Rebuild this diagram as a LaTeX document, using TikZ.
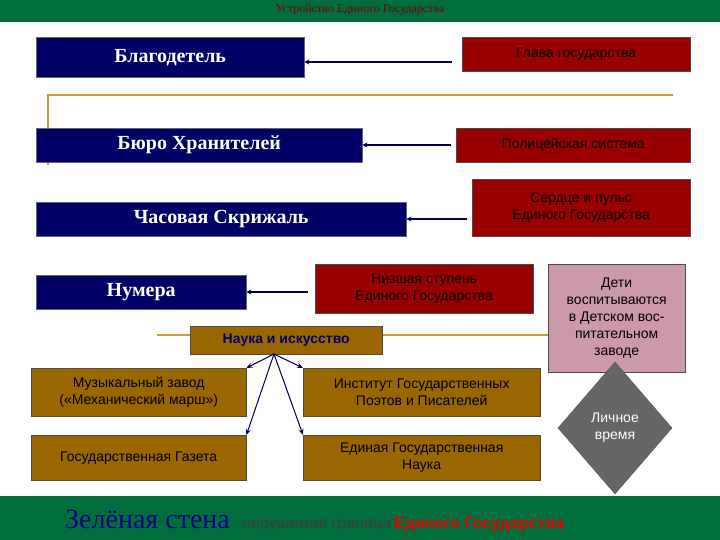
\documentclass[tikz,border=0pt]{standalone}
\usepackage{fontspec}
\setmainfont{Liberation Sans}
\newfontfamily\serifb{Liberation Serif}
\usetikzlibrary{shapes.geometric,arrows.meta}
\definecolor{gband}{RGB}{0,110,60}
\definecolor{bbox}{RGB}{0,0,102}
\definecolor{rbox}{RGB}{153,0,0}
\definecolor{pbox}{RGB}{204,153,170}
\definecolor{obox}{RGB}{153,102,0}
\definecolor{gold}{RGB}{190,160,60}
\definecolor{arr}{RGB}{0,0,80}
\begin{document}
\begin{tikzpicture}[x=1pt,y=-1pt,
  bluebox/.style={fill=bbox,draw=black!60,text=white,font=\serifb\bfseries\fontsize{20}{22}\selectfont,anchor=north west,inner sep=0pt},
  redbox/.style={fill=rbox,draw=black!70,text=black,font=\fontsize{14}{17}\selectfont,anchor=north west,inner sep=0pt,align=center},
  brownbox/.style={fill=obox,draw=black!70,text=black,font=\fontsize{14}{17}\selectfont,anchor=north west,inner sep=0pt,align=center},
  conn/.style={draw=arr,line width=1.5pt,-{Stealth[length=5pt,width=5pt]}},
  fan/.style={draw=arr,line width=1pt,-{Stealth[length=6pt,width=5pt]}}]
\useasboundingbox (0,0) rectangle (720,540);
\fill[white] (0,0) rectangle (720,540);
\fill[gband] (0,0) rectangle (720,22);
\fill[gband] (0,496) rectangle (720,540);
\node[text=rbox!80!black,font=\serifb\fontsize{12}{14}\selectfont] (title) at (360,10) {Устройство Единого Государства};
% gold lines
\draw[gold,line width=1.5pt] (48,165) -- (48,95) -- (673,95);
\draw[gold,line width=1.5pt] (157,335) -- (548,335);
% blue boxes
\node[bluebox,minimum width=268,minimum height=40] (b1) at (36,37) {Благодетель};
\node[bluebox,minimum width=326,minimum height=34] (b2) at (36,128) {Бюро Хранителей};
\node[bluebox,minimum width=370,minimum height=34] (b3) at (36,202) {Часовая Скрижаль};
\node[bluebox,minimum width=210,minimum height=34] (b4) at (36,275) {Нумера};
% red boxes
\node[redbox,minimum width=228,minimum height=34] (r1) at (462,37) {Глава государства};
\node[redbox,minimum width=234,minimum height=34] (r2) at (456,128) {Полицейская система};
\node[redbox,minimum width=218,minimum height=57] (r3) at (472,179) {Сердце и пульс\\Единого Государства};
\node[redbox,minimum width=218,minimum height=49] (r4) at (315,264) {Низшая ступень\\Единого Государства};
\node[fill=pbox,draw=black!70,text=black,font=\fontsize{14}{17}\selectfont,anchor=north west,inner sep=0pt,align=center,minimum width=137,minimum height=108] (kids) at (548,264) {Дети\\воспитываются\\в Детском вос-\\питательном\\заводе};
\node[diamond,fill=black!60,draw=black!70,text=white,font=\fontsize{14}{17}\selectfont,align=center,minimum width=114,minimum height=132,inner sep=0pt] (time) at (615,428) {Личное\\время};
% arrows red->blue
\coordinate (a1) at (452,62); \draw[conn] (a1) -- (b1.east |- a1);
\coordinate (a2) at (451,145); \draw[conn] (a2) -- (b2.east |- a2);
\coordinate (a3) at (467,219); \draw[conn] (a3) -- (b3.east |- a3);
\coordinate (a4) at (308,292); \draw[conn] (a4) -- (b4.east |- a4);
% brown boxes
\node[brownbox,font=\bfseries\fontsize{14}{17}\selectfont,text=bbox,minimum width=192,minimum height=28] (sci) at (190,326) {Наука и искусство};
\node[brownbox,minimum width=215,minimum height=48] (m1) at (31,368) {Музыкальный завод\\(«Механический марш»)};
\node[brownbox,minimum width=237,minimum height=48] (m2) at (303,368) {Институт Государственных\\Поэтов и Писателей};
\node[brownbox,minimum width=215,minimum height=45] (m3) at (31,435) {Государственная Газета};
\node[brownbox,minimum width=237,minimum height=45] (m4) at (303,435) {Единая Государственная\\Наука};
\coordinate (o) at (274,354);
\draw[fan] (o) -- (m1.north east);
\draw[fan] (o) -- (m2.north west);
\draw[fan] (o) -- (m3.north east);
\draw[fan] (o) -- (m4.north west);
% bottom text
\node[anchor=base west,inner sep=0pt] (wall) at (65,528) {{\serifb\fontsize{28}{30}\selectfont\color{bbox!80!blue}Зелёная стена} {\fontsize{16}{18}\selectfont\color{black!75}- нерушимая граница} {\fontsize{16}{18}\selectfont\bfseries\color{red!90!black}Единого Государства}};
\end{tikzpicture}
\end{document}
